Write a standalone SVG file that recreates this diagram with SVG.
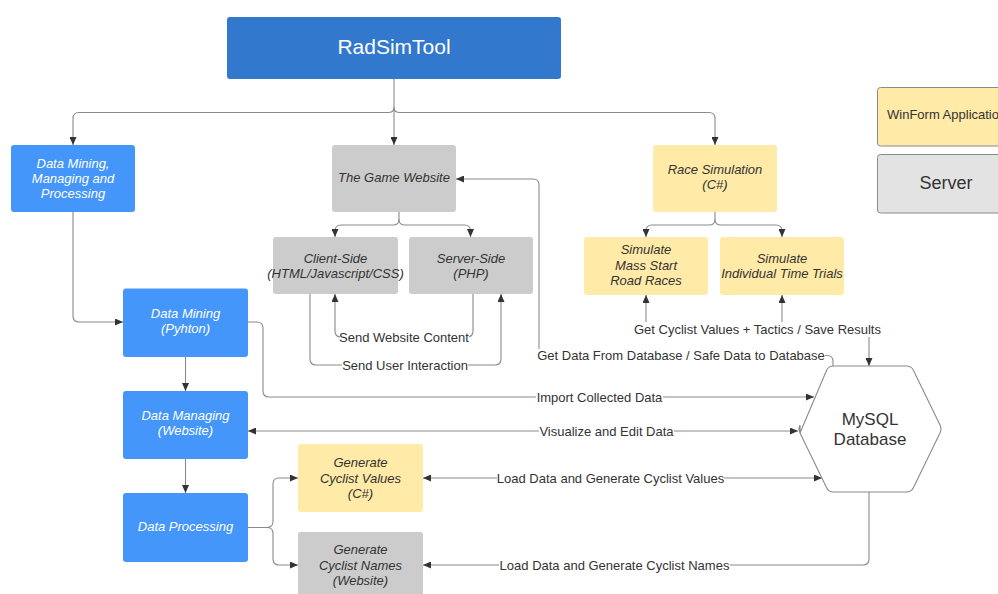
<svg xmlns="http://www.w3.org/2000/svg" width="998" height="594" viewBox="0 0 998 594">
  <defs>
    <marker id="arr" viewBox="0 0 8 7" refX="8" refY="3.5" markerWidth="8" markerHeight="7" markerUnits="userSpaceOnUse" orient="auto-start-reverse">
      <path d="M0,0 L8,3.5 L0,7 z" fill="#333333"/>
    </marker>
    <style>
      text { font-family: "Liberation Sans", Arial, sans-serif; }
      .blue { fill: #4496FA; }
      .grey { fill: #CCCCCC; }
      .yellow { fill: #FFEAA7; }
      .nt { font-size: 13px; font-style: italic; fill: #333333; text-anchor: middle; }
      .nw { font-size: 13px; font-style: italic; fill: #FFFFFF; text-anchor: middle; }
      .lbl { font-size: 13px; fill: #333333; text-anchor: middle; }
      .bg { fill: #FFFFFF; }
      .ln { fill: none; stroke: #8A8A8A; stroke-width: 1.1; }
      .ar { marker-end: url(#arr); }
      .ar2 { marker-start: url(#arr); marker-end: url(#arr); }
    </style>
  </defs>

  <rect width="998" height="594" fill="#FFFFFF"/>

  <!-- connectors -->
  <g id="connectors">
    <!-- RadSimTool to the three areas -->
    <path class="ln ar" d="M394,79 V145"/>
    <path class="ln ar" d="M394,107.5 Q394,112.5 388,112.5 H79 Q73,112.5 73,118.5 V145"/>
    <path class="ln ar" d="M394,107.5 Q394,112.5 400,112.5 H709 Q715,112.5 715,118.5 V145"/>

    <!-- Game website to client / server side -->
    <path class="ln ar" d="M399,212 V219.5 Q399,225 393,225 H341 Q335,225 335,231 V237"/>
    <path class="ln ar" d="M399,219.5 Q399,225 405,225 H464.5 Q470.5,225 470.5,231 V237"/>

    <!-- Race simulation to the two simulation modes -->
    <path class="ln ar" d="M715,212 V219.5 Q715,225 709,225 H652 Q646,225 646,231 V237"/>
    <path class="ln ar" d="M715,219.5 Q715,225 721,225 H776 Q782,225 782,231 V237"/>

    <!-- client / server exchange -->
    <path class="ln ar" d="M473,294 V331 Q473,337 467,337 H341 Q335,337 335,331 V294"/>
    <path class="ln ar" d="M310,294 V359 Q310,365 316,365 H495 Q501,365 501,359 V294"/>

    <!-- database to game website -->
    <path class="ln ar" d="M833,366 V361.5 Q833,355.5 827,355.5 H545 Q539,355.5 539,349.5 V185 Q539,179 533,179 H456"/>

    <!-- database to race simulations -->
    <path class="ln ar" d="M646,322 V295"/>
    <path class="ln ar" d="M782,322 V295"/>
    <path class="ln ar" d="M869,337 V366"/>

    <!-- data pipeline -->
    <path class="ln ar" d="M73,212 V316 Q73,322 79,322 H123"/>
    <path class="ln ar" d="M185.5,357 V391"/>
    <path class="ln ar" d="M185.5,459 V493"/>
    <path class="ln ar" d="M248,322 H257 Q263,322 263,328 V391 Q263,397 269,397 H814"/>
    <path class="ln ar2" d="M248,431 H798"/>
    <path class="ln ar" d="M248,527.5 H267 Q273,527.5 273,521.5 V484 Q273,478 279,478 H298"/>
    <path class="ln ar" d="M267,527.5 Q273,527.5 273,533.5 V559 Q273,565 279,565 H298"/>
    <path class="ln ar2" d="M423,478 H822"/>
    <path class="ln ar" d="M869,492 V559 Q869,565 863,565 H423"/>

    <!-- connector labels on a white ground -->
    <rect class="bg" x="340" y="330" width="129" height="14"/>
    <text class="lbl" x="404" y="341.5">Send Website Content</text>
    <rect class="bg" x="342" y="358" width="126" height="14"/>
    <text class="lbl" x="405" y="369.5">Send User Interaction</text>
    <rect class="bg" x="537" y="349" width="288" height="14"/>
    <text class="lbl" x="681" y="360">Get Data From Database / Safe Data to Database</text>
    <rect class="bg" x="634" y="322" width="247" height="15"/>
    <text class="lbl" x="757.5" y="334">Get Cyclist Values + Tactics / Save Results</text>
    <rect class="bg" x="536" y="390" width="127" height="14"/>
    <text class="lbl" x="599.5" y="401.5">Import Collected Data</text>
    <rect class="bg" x="539" y="424" width="135" height="14"/>
    <text class="lbl" x="606.5" y="435.5">Visualize and Edit Data</text>
    <rect class="bg" x="497" y="471" width="227" height="14"/>
    <text class="lbl" x="610.5" y="482.5">Load Data and Generate Cyclist Values</text>
    <rect class="bg" x="499" y="558" width="231" height="14"/>
    <text class="lbl" x="614.5" y="569.5">Load Data and Generate Cyclist Names</text>
  </g>

  <!-- nodes -->
  <g id="radsimtool">
    <rect x="227" y="17" width="334" height="62" rx="3" fill="#3278CC"/>
    <text x="394" y="53.5" font-size="21" fill="#FFFFFF" text-anchor="middle">RadSimTool</text>
  </g>

  <g id="data-mining-managing-processing">
    <rect class="blue" x="11" y="145" width="124" height="67" rx="3"/>
    <text class="nw" x="73" y="167.5">Data Mining,</text>
    <text class="nw" x="73" y="182.5">Managing and</text>
    <text class="nw" x="73" y="198">Processing</text>
  </g>

  <g id="game-website">
    <rect class="grey" x="332" y="145" width="124" height="67" rx="3"/>
    <text class="nt" x="394" y="181.5">The Game Website</text>
  </g>

  <g id="race-simulation">
    <rect class="yellow" x="653" y="145" width="124" height="67" rx="3"/>
    <text class="nt" x="715" y="173.5">Race Simulation</text>
    <text class="nt" x="715" y="189">(C#)</text>
  </g>

  <g id="legend-winform">
    <rect x="877.5" y="87.5" width="140" height="58.5" rx="3" fill="#FFEAA7" stroke="#8A8A8A" stroke-width="1"/>
    <text x="887" y="119" font-size="13" fill="#333333">WinForm Application</text>
  </g>

  <g id="legend-server">
    <rect x="877.5" y="154.5" width="140" height="58.5" rx="3" fill="#E3E3E3" stroke="#8A8A8A" stroke-width="1"/>
    <text x="946" y="188.5" font-size="18" fill="#333333" text-anchor="middle">Server</text>
  </g>

  <g id="client-side">
    <rect class="grey" x="273" y="237" width="125" height="57" rx="3"/>
    <text class="nt" x="335.5" y="262.5">Client-Side</text>
    <text class="nt" x="335.5" y="278" font-size="11.5">(HTML/Javascript/CSS)</text>
  </g>

  <g id="server-side">
    <rect class="grey" x="409" y="237" width="124" height="57" rx="3"/>
    <text class="nt" x="471" y="262.5">Server-Side</text>
    <text class="nt" x="471" y="278">(PHP)</text>
  </g>

  <g id="mass-start">
    <rect class="yellow" x="584" y="237" width="124" height="58" rx="3"/>
    <text class="nt" x="646" y="254">Simulate</text>
    <text class="nt" x="646" y="269.5">Mass Start</text>
    <text class="nt" x="646" y="285">Road Races</text>
  </g>

  <g id="time-trials">
    <rect class="yellow" x="720" y="237" width="124" height="58" rx="3"/>
    <text class="nt" x="782" y="262.5">Simulate</text>
    <text class="nt" x="782" y="278">Individual Time Trials</text>
  </g>

  <g id="data-mining">
    <rect class="blue" x="123" y="288.5" width="125" height="68.5" rx="3"/>
    <text class="nw" x="185.5" y="317.5">Data Mining</text>
    <text class="nw" x="185.5" y="332.5">(Pyhton)</text>
  </g>

  <g id="data-managing">
    <rect class="blue" x="123" y="391" width="125" height="68" rx="3"/>
    <text class="nw" x="185.5" y="420">Data Managing</text>
    <text class="nw" x="185.5" y="435">(Website)</text>
  </g>

  <g id="data-processing">
    <rect class="blue" x="123" y="493" width="125" height="69" rx="3"/>
    <text class="nw" x="185.5" y="530.5">Data Processing</text>
  </g>

  <g id="generate-values">
    <rect class="yellow" x="298" y="444" width="125" height="68" rx="3"/>
    <text class="nt" x="360.5" y="467">Generate</text>
    <text class="nt" x="360.5" y="482.5">Cyclist Values</text>
    <text class="nt" x="360.5" y="498">(C#)</text>
  </g>

  <g id="generate-names">
    <rect class="grey" x="298" y="532" width="125" height="68" rx="3"/>
    <text class="nt" x="360.5" y="554">Generate</text>
    <text class="nt" x="360.5" y="569.5">Cyclist Names</text>
    <text class="nt" x="360.5" y="585">(Website)</text>
  </g>

  <g id="mysql-database">
    <path d="M800,433 L826.5,370.5 Q828.5,366 833.5,366 H906.5 Q911.5,366 913.5,370.5 L940,425 Q942,429 940,433 L913.5,487.5 Q911.5,492 906.5,492 H833.5 Q828.5,492 826.5,487.5 L800,433 Q798,429 800,425 Z" fill="#FFFFFF" stroke="#8A8A8A" stroke-width="1.1"/>
    <text x="870" y="425" font-size="17" fill="#333333" text-anchor="middle">MySQL</text>
    <text x="870" y="445" font-size="17" fill="#333333" text-anchor="middle">Database</text>
  </g>
</svg>
